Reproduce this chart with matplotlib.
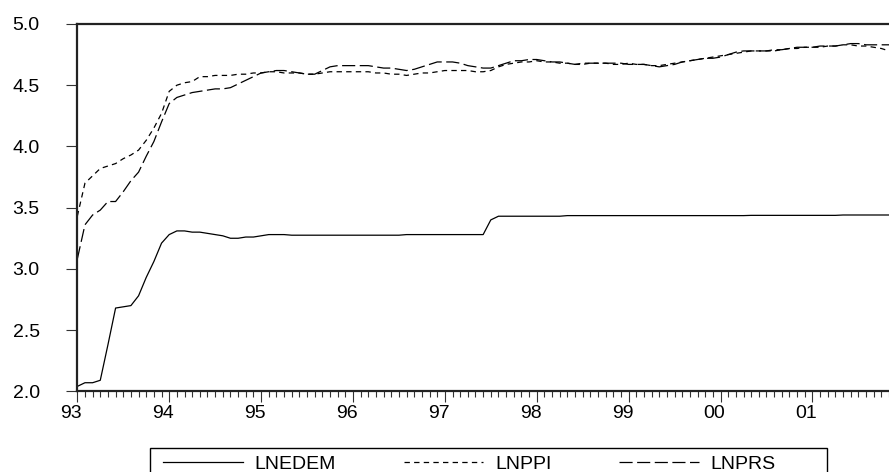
"""
EViews-style line chart: LNEDEM, LNPPI, LNPRS (monthly, 1993M01 onwards).
"""

import matplotlib
matplotlib.use("Agg")
import matplotlib.pyplot as plt
import matplotlib.transforms as mtrans
from matplotlib.patches import Rectangle
import numpy as np

plt.rcParams["font.family"] = ["Liberation Sans", "DejaVu Sans"]

# monthly observations starting 1993M01
lnedem = [2.04, 2.07, 2.07, 2.09, 2.38, 2.68, 2.69, 2.70, 2.78, 2.93,
          3.06, 3.21, 3.28, 3.31, 3.31, 3.30, 3.30, 3.29, 3.28, 3.27,
          3.25, 3.25, 3.26, 3.26, 3.27, 3.28, 3.28, 3.28, 3.275, 3.275,
          3.275, 3.275, 3.275, 3.275, 3.275, 3.275, 3.275, 3.275, 3.275, 3.275,
          3.275, 3.275, 3.275, 3.28, 3.28, 3.28, 3.28, 3.28, 3.28, 3.28,
          3.28, 3.28, 3.28, 3.28, 3.40, 3.43, 3.43, 3.43, 3.43, 3.43,
          3.43, 3.43, 3.43, 3.43, 3.435, 3.435, 3.435, 3.435, 3.435, 3.435,
          3.435, 3.435, 3.435, 3.435, 3.435, 3.435, 3.435, 3.435, 3.435, 3.435,
          3.435, 3.435, 3.435, 3.435, 3.435, 3.435, 3.435, 3.435, 3.437, 3.437,
          3.437, 3.437, 3.437, 3.437, 3.437, 3.437, 3.437, 3.437, 3.437, 3.437,
          3.44, 3.44, 3.44, 3.44, 3.44, 3.44, 3.44]

lnppi = [3.43, 3.70, 3.76, 3.82, 3.84, 3.86, 3.90, 3.93, 3.97, 4.05,
         4.15, 4.27, 4.45, 4.50, 4.52, 4.53, 4.57, 4.57, 4.58, 4.58,
         4.58, 4.59, 4.59, 4.60, 4.60, 4.61, 4.61, 4.60, 4.60, 4.60,
         4.59, 4.59, 4.60, 4.61, 4.61, 4.61, 4.61, 4.61, 4.61, 4.60,
         4.60, 4.59, 4.59, 4.58, 4.59, 4.60, 4.60, 4.61, 4.62, 4.62,
         4.62, 4.62, 4.61, 4.61, 4.62, 4.65, 4.67, 4.68, 4.69, 4.69,
         4.70, 4.69, 4.69, 4.68, 4.68, 4.67, 4.67, 4.68, 4.68, 4.68,
         4.67, 4.67, 4.68, 4.67, 4.67, 4.66, 4.66, 4.67, 4.68, 4.69,
         4.70, 4.71, 4.72, 4.73, 4.74, 4.75, 4.76, 4.77, 4.78, 4.78,
         4.78, 4.78, 4.79, 4.80, 4.80, 4.81, 4.81, 4.81, 4.82, 4.82,
         4.83, 4.83, 4.82, 4.82, 4.81, 4.80, 4.78]

lnprs = [3.08, 3.36, 3.44, 3.48, 3.55, 3.55, 3.63, 3.72, 3.79, 3.92,
         4.04, 4.20, 4.35, 4.40, 4.42, 4.44, 4.45, 4.46, 4.47, 4.47,
         4.48, 4.51, 4.54, 4.57, 4.60, 4.61, 4.62, 4.62, 4.61, 4.60,
         4.59, 4.59, 4.62, 4.65, 4.66, 4.66, 4.66, 4.66, 4.66, 4.65,
         4.64, 4.64, 4.63, 4.62, 4.63, 4.65, 4.67, 4.69, 4.69, 4.69,
         4.68, 4.66, 4.65, 4.64, 4.64, 4.66, 4.68, 4.70, 4.70, 4.71,
         4.71, 4.70, 4.69, 4.69, 4.68, 4.67, 4.68, 4.68, 4.68, 4.68,
         4.68, 4.68, 4.67, 4.67, 4.67, 4.66, 4.65, 4.66, 4.67, 4.69,
         4.70, 4.71, 4.72, 4.72, 4.73, 4.75, 4.77, 4.78, 4.78, 4.78,
         4.78, 4.79, 4.79, 4.80, 4.81, 4.81, 4.81, 4.82, 4.82, 4.82,
         4.83, 4.84, 4.84, 4.83, 4.83, 4.83, 4.83]

year_labels = ["93", "94", "95", "96", "97", "98", "99", "00", "01"]
y_ticks = [2.0, 2.5, 3.0, 3.5, 4.0, 4.5, 5.0]

W, H = 889, 472
fig = plt.figure(figsize=(W / 100, H / 100), dpi=100)
ax = fig.add_axes([77.3 / W, 1 - 391.3 / H, (W - 77.3) / W, (391.3 - 24) / H])

months = np.arange(len(lnedem))
ax.plot(months, lnedem, color="black", lw=0.9, label="LNEDEM")
ax.plot(months, lnppi, color="black", lw=0.9, dashes=(4.3, 3.4), label="LNPPI")
ax.plot(months, lnprs, color="black", lw=0.9, dashes=(10.5, 3.6), label="LNPRS")

ax.set_xlim(0, 106)
ax.set_ylim(2.0, 5.0)

ax.set_xticks(np.arange(len(year_labels)) * 12)
ax.set_xticklabels(year_labels)
ax.set_xticks(months, minor=True)
ax.set_yticks(y_ticks)
ax.set_yticklabels([f"{v:.1f}" for v in y_ticks])

ax.tick_params(axis="both", which="major", direction="out", length=8, width=0.8,
               labelsize=14, color="#333333")
ax.tick_params(axis="x", which="major", pad=2)
ax.tick_params(axis="x", which="minor", direction="out", length=4, width=0.8, color="#333333")
ax.tick_params(axis="y", which="major", pad=19)
ax.tick_params(axis="y", which="minor", left=False)

# year labels sit slightly left of their tick, as in EViews
shift = mtrans.ScaledTranslation(-6 / 100, 0, fig.dpi_scale_trans)
for lbl in ax.get_xticklabels():
    lbl.set_transform(lbl.get_transform() + shift)

for side in ["left", "bottom", "top"]:
    ax.spines[side].set_linewidth(1.6)
    ax.spines[side].set_color("#222222")
ax.spines["right"].set_visible(False)

# legend box below the plot, its lower edge runs off the figure
bx0, bx1, btop = 149.6, 826.7, 447.6
fig.patches.append(Rectangle((bx0 / W, -0.05), (bx1 - bx0) / W, 1 - btop / H + 0.05,
                             transform=fig.transFigure, fill=False,
                             edgecolor="black", linewidth=1.0))
fig.legend(loc="upper left", bbox_to_anchor=(156 / W, 1 - (btop + 1) / H),
           ncol=3, frameon=False, fontsize=14, handlelength=4.1,
           handletextpad=0.6, columnspacing=3.5, borderpad=0.35, borderaxespad=0)

fig.savefig("out.png", dpi=100)
